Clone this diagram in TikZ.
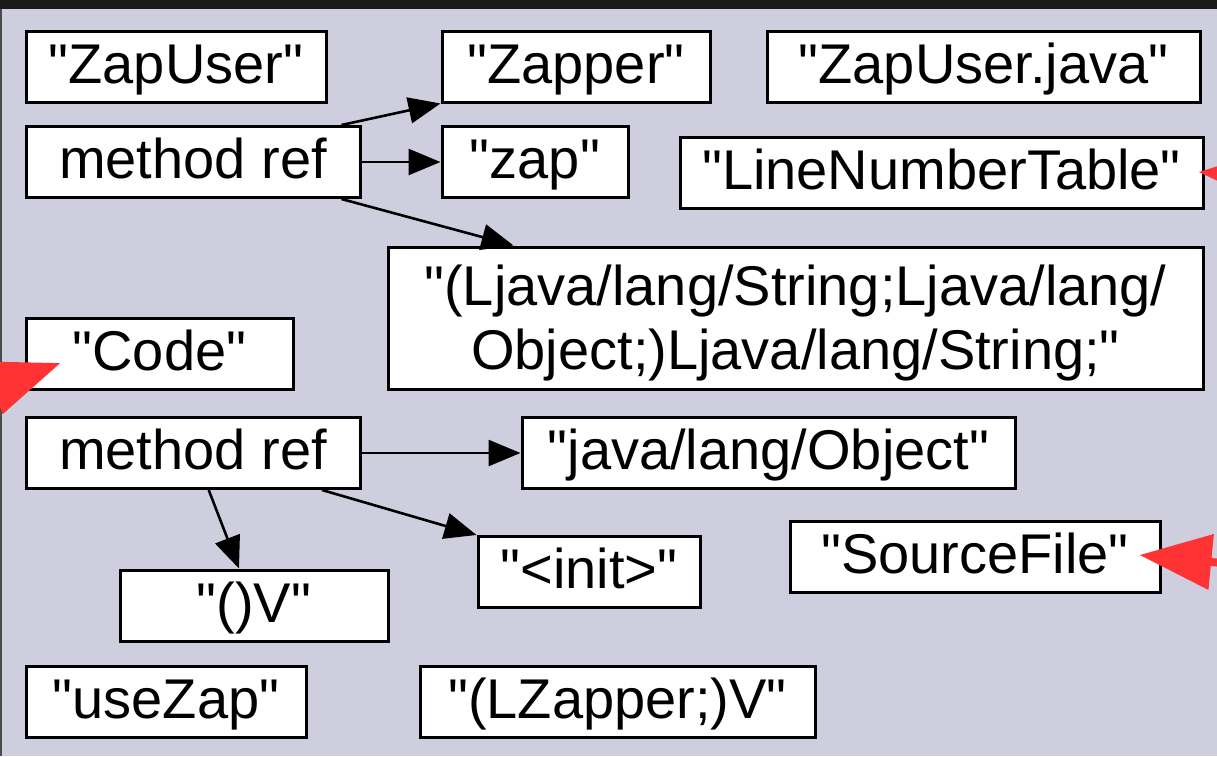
\documentclass[tikz,border=0pt]{standalone}
\usepackage{fontspec}
\setmainfont{Liberation Sans}[Ligatures=TeXOff]
\usepackage{tikz}
\usetikzlibrary{arrows.meta,calc}
\definecolor{poolbg}{HTML}{CFCEDF}
\definecolor{hotred}{HTML}{FF3333}
\definecolor{frameink}{HTML}{1A1A1A}

\begin{document}
\begin{tikzpicture}[
    x=0.5pt, y=-0.5pt,
    entry/.style={draw, line width=1.5pt, fill=white, inner sep=0pt, minimum height=35.5pt,
        font=\fontsize{28}{32}\selectfont, text height=20pt, text depth=3.5pt},
    link/.style={-{Triangle[length=16pt,width=13pt]}, line width=1.3pt},
    incoming/.style={-{Triangle[length=36pt,width=27pt]}, draw=hotred, fill=hotred, line width=4pt}
]
\useasboundingbox (0,0) rectangle (1217,756);
\clip (0,0) rectangle (1217,756);
\fill[poolbg] (0,0) rectangle (1217,756);
\fill[frameink] (0,0) rectangle (1217,9);
\draw[gray!60!black, line width=1pt] (1,9) -- (1,756);

\node[entry, minimum width=150pt] (zapuser) at (176,66.5) {"ZapUser"};
\node[entry, minimum width=134pt] (zapper) at (576,66.5) {"Zapper"};
\node[entry, minimum width=216.5pt] (zapjava) at (983.5,66.5) {"ZapUser.java"};
\node[entry, minimum width=167pt] (mref1) at (193,162) {method ref};
\node[entry, minimum width=93pt] (zap) at (535,162) {"zap"};
\node[entry, minimum width=261.5pt] (lnt) at (941.5,173) {"LineNumberTable"};
\node[entry, minimum width=407.5pt, minimum height=71pt, align=center, text height=54.5pt]
    (sig) at (795.5,318) {"(Ljava/lang/String;Ljava/lang/\\Object;)Ljava/lang/String;"};
\node[entry, minimum width=133.5pt] (code) at (159.5,354) {"Code"};
\node[entry, minimum width=167pt] (mref2) at (193,453) {method ref};
\node[entry, minimum width=246.5pt] (obj) at (768.5,453) {"java/lang/Object"};
\node[entry, minimum width=185pt] (srcfile) at (975,556.5) {"SourceFile"};
\node[entry, minimum width=111pt] (init) at (589,572) {"<init>"};
\node[entry, minimum width=134pt] (voidsig) at (254,605.5) {"()V"};
\node[entry, minimum width=140pt] (usezap) at (166,701.5) {"useZap"};
\node[entry, minimum width=197.5pt] (lzapper) at (617.5,701.5) {"(LZapper;)V"};

\draw[link] (mref1.14) -- (zapper.south west);
\draw[link] (mref1.east) -- (zap.west);
\draw[link] (mref1.-14) -- ($(sig.north west)+(127,0)$);
\draw[link] (mref2.east) -- (obj.west);
\draw[link] (mref2.-16) -- (init.north west);
\draw[link] (mref2.-67) -- ($(voidsig.north)+(-15,0)$);

\coordinate (codesrc) at (-100,422);
\coordinate (lntsrc) at (1400,186);
\coordinate (srcsrc) at (1438,584);
\draw[incoming] (codesrc) -- ($(code.west)+(36,9)$);
\draw[incoming] (lntsrc) -- ($(lnt.east)+(-6,-1)$);
\draw[incoming] (srcsrc) -- ($(srcfile.east)+(-22,-1.5)$);
\end{tikzpicture}
\end{document}
